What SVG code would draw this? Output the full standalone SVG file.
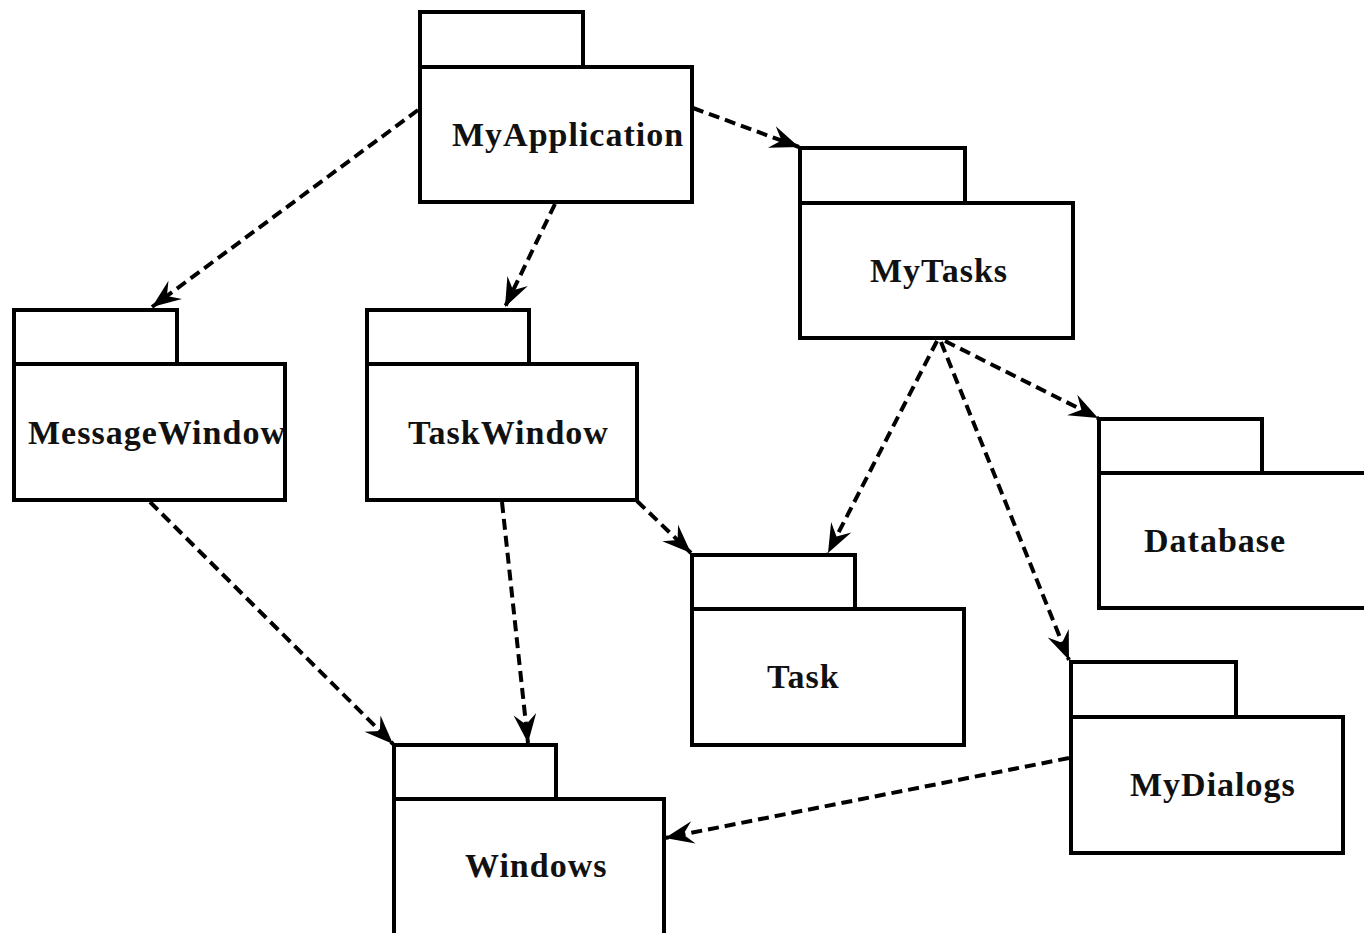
<svg xmlns="http://www.w3.org/2000/svg" width="1364" height="933" viewBox="0 0 1364 933">
<style>
.pk{fill:#fff;stroke:#000;stroke-width:4}
.lbl{font-family:"Liberation Serif","Times New Roman",serif;font-weight:bold;font-size:34px;letter-spacing:1px;fill:#111}
.dep{fill:none;stroke:#000;stroke-width:4;stroke-dasharray:11 6;marker-end:url(#arr)}
</style>
<defs>
<marker id="arr" markerUnits="userSpaceOnUse" markerWidth="32" markerHeight="32" viewBox="-29 -13 31 26" refX="0" refY="0" orient="auto">
<path d="M0,0 L-28,-11 L-18,0 L-28,11 Z" fill="#000"/>
</marker>
<clipPath id="cMW"><rect x="16" y="366" width="267" height="132"/></clipPath>
</defs>
<rect width="1364" height="933" fill="#fff"/>
<g id="connectors">
<line class="dep" x1="418" y1="110" x2="152" y2="307"/>
<line class="dep" x1="555" y1="204" x2="505" y2="307"/>
<line class="dep" x1="693" y1="108" x2="799" y2="147"/>
<line class="dep" x1="937" y1="341" x2="828" y2="553"/>
<line class="dep" x1="945" y1="341" x2="1098" y2="418"/>
<line class="dep" x1="941" y1="342" x2="1069" y2="660"/>
<line class="dep" x1="150" y1="502" x2="393" y2="744"/>
<line class="dep" x1="502" y1="502" x2="528" y2="743"/>
<line class="dep" x1="637" y1="501" x2="691" y2="553"/>
<line class="dep" x1="1069" y1="758" x2="665" y2="838"/>
</g>
<g id="MyApplication">
<rect class="pk" x="420" y="12" width="163" height="55"/>
<rect class="pk" x="420" y="67" width="272" height="135"/>
<text class="lbl" x="452" y="146">MyApplication</text>
</g>
<g id="MyTasks">
<rect class="pk" x="800" y="148" width="165" height="55"/>
<rect class="pk" x="800" y="203" width="273" height="135"/>
<text class="lbl" x="870" y="282">MyTasks</text>
</g>
<g id="MessageWindow">
<rect class="pk" x="14" y="310" width="163" height="54"/>
<rect class="pk" x="14" y="364" width="271" height="136"/>
<text class="lbl" x="28" y="444" clip-path="url(#cMW)">MessageWindow</text>
</g>
<g id="TaskWindow">
<rect class="pk" x="367" y="310" width="162" height="54"/>
<rect class="pk" x="367" y="364" width="270" height="136"/>
<text class="lbl" x="408" y="444">TaskWindow</text>
</g>
<g id="Database">
<rect class="pk" x="1099" y="419" width="163" height="54"/>
<rect class="pk" x="1099" y="473" width="275" height="135"/>
<text class="lbl" x="1144" y="552">Database</text>
</g>
<g id="Task">
<rect class="pk" x="692" y="555" width="163" height="54"/>
<rect class="pk" x="692" y="609" width="272" height="136"/>
<text class="lbl" x="767" y="688">Task</text>
</g>
<g id="MyDialogs">
<rect class="pk" x="1071" y="662" width="165" height="55"/>
<rect class="pk" x="1071" y="717" width="272" height="136"/>
<text class="lbl" x="1130" y="796">MyDialogs</text>
</g>
<g id="Windows">
<rect class="pk" x="394" y="745" width="162" height="54"/>
<rect class="pk" x="394" y="799" width="270" height="144"/>
<text class="lbl" x="465" y="877">Windows</text>
</g>
</svg>
